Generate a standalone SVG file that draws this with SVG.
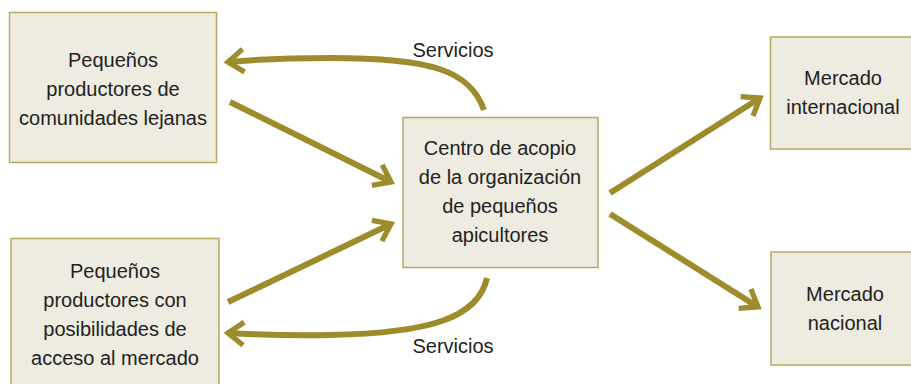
<svg xmlns="http://www.w3.org/2000/svg" width="911" height="384" viewBox="0 0 911 384">
<defs>
<style>
.box{fill:#eeebe0;stroke:#b8a95f;stroke-width:1.5}
.t{font-family:"Liberation Sans",Arial,sans-serif;font-size:20px;fill:#222;text-anchor:middle}
.c{fill:none;stroke:#9c8c2c;stroke-width:6}
</style>
<marker id="ah" viewBox="0 0 10 10" refX="8.5" refY="5" markerWidth="4" markerHeight="4" orient="auto" markerUnits="strokeWidth" overflow="visible">
<path d="M2,0.2 L8.5,5 L2,9.8" fill="none" stroke="#9c8c2c" stroke-width="2.2" stroke-linejoin="miter"/>
</marker>
</defs>
<rect width="911" height="384" fill="#fff"/>
<g id="n1"><rect class="box" x="9.5" y="12.5" width="207" height="150"/>
<text class="t" x="113" y="67">Pequeños</text><text class="t" x="113" y="96">productores de</text><text class="t" x="113" y="125">comunidades lejanas</text></g>
<g id="n2"><rect class="box" x="11" y="238.5" width="208" height="150"/>
<text class="t" x="115" y="278">Pequeños</text><text class="t" x="115" y="307">productores con</text><text class="t" x="115" y="336">posibilidades de</text><text class="t" x="115" y="365">acceso al mercado</text></g>
<g id="n3"><rect class="box" x="403" y="117.5" width="195" height="150"/>
<text class="t" x="500" y="155">Centro de acopio</text><text class="t" x="500" y="184">de la organización</text><text class="t" x="500" y="213">de pequeños</text><text class="t" x="500" y="242">apicultores</text></g>
<g id="n4"><rect class="box" x="770.5" y="37" width="150" height="112"/>
<text class="t" x="843" y="85">Mercado</text><text class="t" x="843" y="114">internacional</text></g>
<g id="n5"><rect class="box" x="771" y="252" width="150" height="113"/>
<text class="t" x="845" y="301">Mercado</text><text class="t" x="845" y="330">nacional</text></g>
<g id="connectors">
<path class="c" marker-end="url(#ah)" d="M484,110 C470,70 430,58 330,58 C280,58 250,60 228,62"/>
<path class="c" marker-end="url(#ah)" d="M230,102 L391,182"/>
<path class="c" marker-end="url(#ah)" d="M228,302 L391,224"/>
<path class="c" marker-end="url(#ah)" d="M487,278 C478,318 430,333 330,335 C280,336 250,334 228,333"/>
<path class="c" marker-end="url(#ah)" d="M610,193 L760,98"/>
<path class="c" marker-end="url(#ah)" d="M610,214 L758,307"/>
<text class="t" x="453" y="57">Servicios</text>
<text class="t" x="453" y="353">Servicios</text>
</g>
</svg>
